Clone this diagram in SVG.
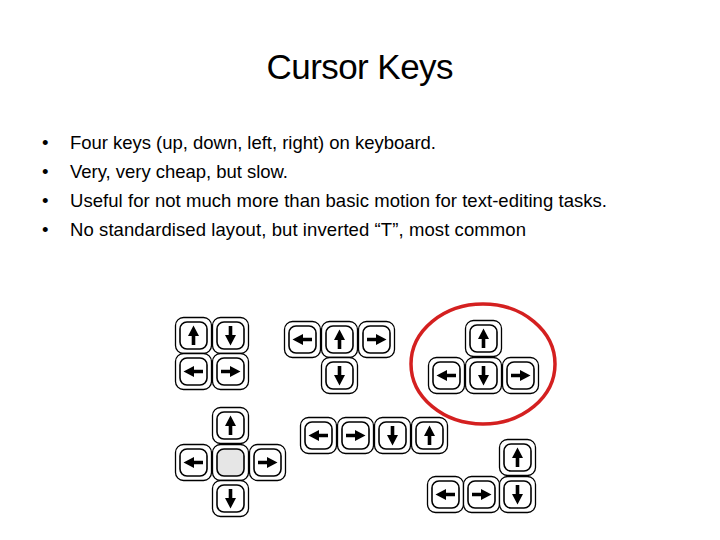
<svg xmlns="http://www.w3.org/2000/svg" xmlns:xlink="http://www.w3.org/1999/xlink" width="720" height="540" viewBox="0 0 720 540">
<style>
text{font-family:"Liberation Sans","DejaVu Sans",sans-serif;fill:#000}
.b{font-size:18.5px}
.o{fill:#fff;stroke:#000;stroke-width:1.3}
.i{fill:none;stroke:#000;stroke-width:1.6}
.a{fill:#000}
</style>
<defs>
<g id="k"><rect class="o" x="0.5" y="0.5" width="36" height="36" rx="8"/><rect class="i" x="5" y="5" width="27" height="27" rx="7"/></g>
<g id="up"><use xlink:href="#k"/><path class="a" d="M18.5 8.5 L24 19 L20.3 19 L20.3 28 L16.7 28 L16.7 19 L13 19 Z"/></g>
<g id="dn"><use xlink:href="#k"/><path class="a" d="M18.5 28.5 L24 18 L20.3 18 L20.3 9 L16.7 9 L16.7 18 L13 18 Z"/></g>
<g id="lt"><use xlink:href="#k"/><path class="a" d="M8.5 18.5 L19 13 L19 16.7 L28 16.7 L28 20.3 L19 20.3 L19 24 Z"/></g>
<g id="rt"><use xlink:href="#k"/><path class="a" d="M28.5 18.5 L18 13 L18 16.7 L9 16.7 L9 20.3 L18 20.3 L18 24 Z"/></g>
</defs>
<text x="360" y="79" text-anchor="middle" font-size="35" textLength="187">Cursor Keys</text>
<g id="bullets">
<text class="b" x="42" y="149">•</text><text class="b" x="70" y="149" textLength="366">Four keys (up, down, left, right) on keyboard.</text>
<text class="b" x="42" y="178">•</text><text class="b" x="70" y="178" textLength="218">Very, very cheap, but slow.</text>
<text class="b" x="42" y="207">•</text><text class="b" x="70" y="207" textLength="537">Useful for not much more than basic motion for text-editing tasks.</text>
<text class="b" x="42" y="236">•</text><text class="b" x="70" y="236" textLength="456">No standardised layout, but inverted “T”, most common</text>
</g>
<g id="g1"><use xlink:href="#up" x="175" y="317"/><use xlink:href="#dn" x="212" y="317"/><use xlink:href="#lt" x="175" y="353"/><use xlink:href="#rt" x="212" y="353"/></g>
<g id="g2"><use xlink:href="#lt" x="284" y="321"/><use xlink:href="#up" x="321" y="321"/><use xlink:href="#rt" x="358" y="321"/><use xlink:href="#dn" x="321" y="357"/></g>
<g id="g3"><use xlink:href="#up" x="465" y="320"/><use xlink:href="#lt" x="428" y="357"/><use xlink:href="#dn" x="465" y="357"/><use xlink:href="#rt" x="502" y="357"/></g>
<g id="g4"><use xlink:href="#up" x="212" y="407"/><use xlink:href="#lt" x="175" y="444"/><g transform="translate(212 444)"><rect class="o" x="0.5" y="0.5" width="36" height="36" rx="8"/><rect x="5" y="5" width="27" height="27" rx="7" fill="#e6e6e6" stroke="#000" stroke-width="1.6"/></g><use xlink:href="#rt" x="249" y="444"/><use xlink:href="#dn" x="212" y="480"/></g>
<g id="g5"><use xlink:href="#lt" x="300" y="417"/><use xlink:href="#rt" x="337" y="417"/><use xlink:href="#dn" x="374" y="417"/><use xlink:href="#up" x="411" y="417"/></g>
<g id="g6"><use xlink:href="#up" x="499" y="439"/><use xlink:href="#lt" x="427" y="476"/><use xlink:href="#rt" x="463" y="476"/><use xlink:href="#dn" x="499" y="476"/></g>
<ellipse id="circle" cx="483" cy="364" rx="72" ry="60" fill="none" stroke="#d42020" stroke-width="3.5"/>
</svg>
